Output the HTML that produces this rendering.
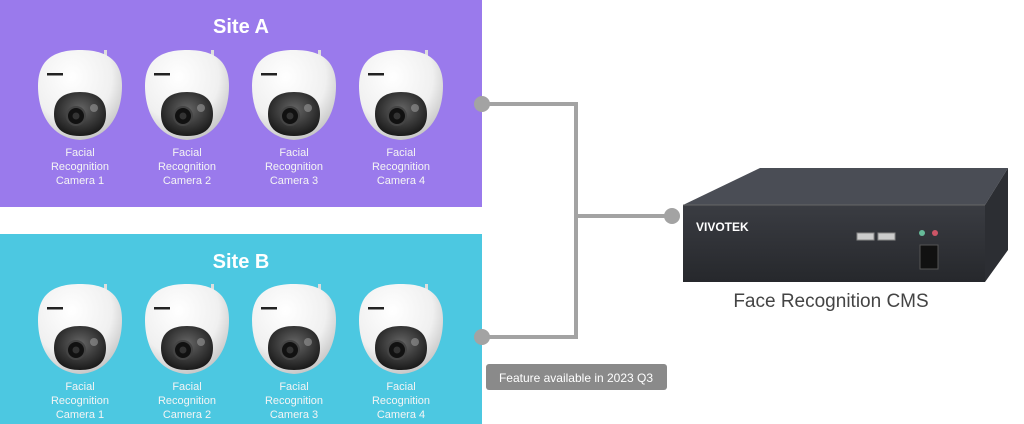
<!DOCTYPE html>
<html><head><style>
body{margin:0;width:1024px;height:424px;background:#fff;overflow:hidden;position:relative;font-family:"Liberation Sans",sans-serif}
svg{position:absolute;left:0;top:0}
</style></head><body>
<svg width="1024" height="424" viewBox="0 0 1024 424">
<defs>
<radialGradient id="wg" cx="0.4" cy="0.3" r="0.8"><stop offset="0" stop-color="#fff"/><stop offset="0.6" stop-color="#f0f0f0"/><stop offset="1" stop-color="#b8b8b8"/></radialGradient>
<radialGradient id="dg" cx="0.5" cy="0.4" r="0.6"><stop offset="0" stop-color="#666"/><stop offset="1" stop-color="#1a1a1a"/></radialGradient>
<g id="cam">
<rect x="24" y="-50" width="3" height="16" fill="#ddd"/>
<path d="M-42,-14 C-42,-42 -24,-50 0,-50 C24,-50 42,-42 42,-14 C42,12 30,38 0,40 C-30,38 -42,12 -42,-14Z" fill="url(#wg)"/>
<path d="M-26,14 C-26,-2 -15,-8 0,-8 C15,-8 26,-2 26,14 C26,30 15,36 0,36 C-15,36 -26,30 -26,14Z" fill="url(#dg)"/>
<circle cx="-4" cy="16" r="9" fill="#111" stroke="#444" stroke-width="2"/>
<circle cx="-4" cy="16" r="3.5" fill="#333"/>
<circle cx="14" cy="8" r="4" fill="#999" opacity="0.6"/>
<rect x="-33" y="-27" width="16" height="2.5" fill="#222"/>
</g>
</defs>
<rect x="0" y="0" width="482" height="207" fill="#9a7aec"/>
<rect x="0" y="234" width="482" height="190" fill="#4cc8e1"/>
<text x="241" y="33" fill="#fff" font-size="20" font-weight="bold" text-anchor="middle">Site A</text>
<text x="241" y="268" fill="#fff" font-size="20" font-weight="bold" text-anchor="middle">Site B</text>
<g fill="#f4f4f4" font-size="11" text-anchor="middle">
<use href="#cam" x="80" y="100"/><use href="#cam" x="187" y="100"/><use href="#cam" x="294" y="100"/><use href="#cam" x="401" y="100"/>
<use href="#cam" x="80" y="334"/><use href="#cam" x="187" y="334"/><use href="#cam" x="294" y="334"/><use href="#cam" x="401" y="334"/>
<text x="80" y="156">Facial</text><text x="80" y="170">Recognition</text><text x="80" y="184">Camera  1</text>
<text x="187" y="156">Facial</text><text x="187" y="170">Recognition</text><text x="187" y="184">Camera  2</text>
<text x="294" y="156">Facial</text><text x="294" y="170">Recognition</text><text x="294" y="184">Camera  3</text>
<text x="401" y="156">Facial</text><text x="401" y="170">Recognition</text><text x="401" y="184">Camera  4</text>
<text x="80" y="390">Facial</text><text x="80" y="404">Recognition</text><text x="80" y="418">Camera  1</text>
<text x="187" y="390">Facial</text><text x="187" y="404">Recognition</text><text x="187" y="418">Camera  2</text>
<text x="294" y="390">Facial</text><text x="294" y="404">Recognition</text><text x="294" y="418">Camera  3</text>
<text x="401" y="390">Facial</text><text x="401" y="404">Recognition</text><text x="401" y="418">Camera  4</text>
</g>
<g stroke="#a3a3a3" stroke-width="4" fill="none">
<path d="M482,104 H576 V337 H482"/><path d="M576,216 H672"/>
</g>
<g fill="#a3a3a3"><circle cx="482" cy="104" r="8"/><circle cx="482" cy="337" r="8"/><circle cx="672" cy="216" r="8"/></g>
<rect x="486" y="364" width="181" height="26" rx="3" fill="#8a8a8a"/>
<text x="576" y="382" fill="#fff" font-size="12" text-anchor="middle">Feature available  in 2023 Q3</text>
<linearGradient id="fg" x1="0" y1="0" x2="0" y2="1"><stop offset="0" stop-color="#3a3c42"/><stop offset="1" stop-color="#26282c"/></linearGradient>
<polygon points="683,205 760,168 1008,168 985,205" fill="#4a4d55"/>
<polygon points="985,205 1008,168 1008,250 985,282" fill="#2c2e33"/>
<rect x="683" y="205" width="302" height="77" fill="url(#fg)"/>
<line x1="683" y1="205" x2="985" y2="205" stroke="#666" stroke-width="1"/>
<text x="696" y="231" fill="#fff" font-size="12" font-weight="bold">VIVOTEK</text>
<rect x="857" y="233" width="17" height="7" fill="#ccc" stroke="#888"/><rect x="878" y="233" width="17" height="7" fill="#ccc" stroke="#888"/>
<circle cx="922" cy="233" r="3" fill="#6b9"/><circle cx="935" cy="233" r="3" fill="#c56"/>
<rect x="920" y="245" width="18" height="24" fill="#111" stroke="#555"/>
<text x="831" y="307" fill="#444" font-size="19" text-anchor="middle">Face Recognition CMS</text>
</svg>
</body></html>
